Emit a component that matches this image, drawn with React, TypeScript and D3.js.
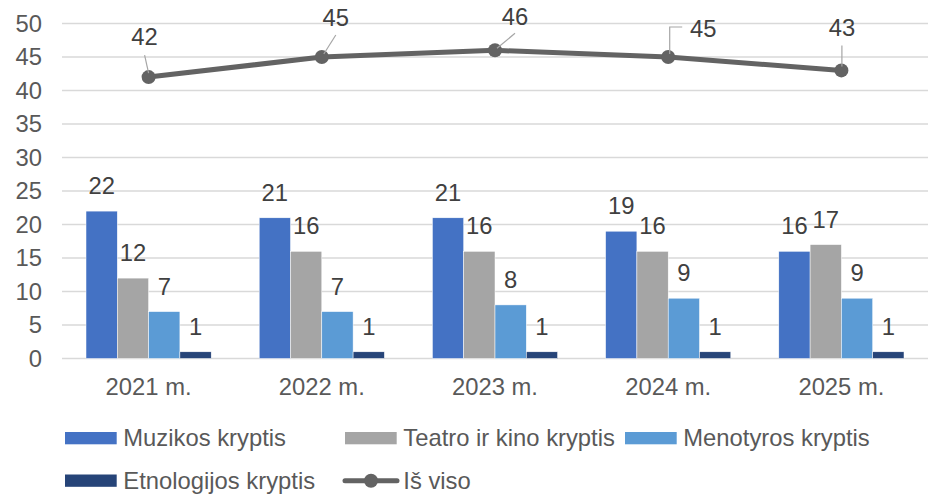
import React from "react";
import * as d3 from "d3";

const categories = ["2021 m.", "2022 m.", "2023 m.", "2024 m.", "2025 m."];
const seriesNames = ["Muzikos kryptis", "Teatro ir kino kryptis", "Menotyros kryptis", "Etnologijos kryptis"];
const muzikos = [22, 21, 21, 19, 16];
const teatro = [12, 16, 16, 16, 17];
const menotyros = [7, 7, 8, 9, 9];
const etnologijos = [1, 1, 1, 1, 1];
const isViso = [42, 45, 46, 45, 43];
const totalName = "Iš viso";
const yTicks = [0, 5, 10, 15, 20, 25, 30, 35, 40, 45, 50];

const colors = ["#4472C4", "#A5A5A5", "#5B9BD5", "#264478"];
const lineColor = "#636363";

// label layout offsets for line labels (text position and leader path relative to point)
const lineLabelLayout = [
  { tx: -4, ty: -32, leader: [[-4, -22], [0, -4]] },
  { tx: 14, ty: -31, leader: [[14, -22], [2, -3]] },
  { tx: 20, ty: -25, leader: [[20, -17], [2, -2]] },
  { tx: 35, ty: -20, leader: [[14, -30], [1.5, -30], [1.5, -3]] },
  { tx: 0.5, ty: -34, leader: [[0.5, -25], [0.5, -4]] },
];

export default function App() {
  const W = 938, H = 495;
  const left = 62, right = 928, top = 23.5, bottom = 358.5;
  const series = [muzikos, teatro, menotyros, etnologijos];

  const x = d3.scaleBand<string>().domain(categories).range([left, right]).paddingInner(0).paddingOuter(0);
  const y = d3.scaleLinear().domain([0, 50]).range([bottom, top]);
  const inner = d3.scaleBand<number>().domain([0, 1, 2, 3]).range([24, x.bandwidth() - 24]);

  const font = "'Liberation Sans', Arial, sans-serif";
  const fs = 23.8;

  const lineGen = d3.line<number>()
    .x((_, i) => (x(categories[i]) as number) + x.bandwidth() / 2)
    .y((d) => y(d));

  return (
    <svg width={W} height={H} style={{ position: "absolute", left: 0, top: 0, background: "#fff" }} fontFamily={font}>
      {yTicks.map((t) => (
        <g key={t}>
          <line x1={left} x2={right} y1={y(t)} y2={y(t)} stroke="#D9D9D9" strokeWidth={1.5} />
          <text x={42} y={y(t) + 8.3} textAnchor="end" fontSize={fs} fill="#595959">{t}</text>
        </g>
      ))}
      {categories.map((c, ci) => (
        <g key={c}>
          {series.map((s, si) => {
            const bx = (x(c) as number) + (inner(si) as number);
            const bw = inner.bandwidth();
            return (
              <g key={si}>
                <rect x={bx} y={y(s[ci])} width={bw} height={bottom - y(s[ci])} fill={colors[si]} stroke="#fff" strokeWidth={0.5} />
                <text x={bx + bw / 2} y={y(s[ci]) - 17} textAnchor="middle" fontSize={fs} fill="#404040">{s[ci]}</text>
              </g>
            );
          })}
          <text x={(x(c) as number) + x.bandwidth() / 2} y={395} textAnchor="middle" fontSize={fs} fill="#595959">{c}</text>
        </g>
      ))}
      <path d={lineGen(isViso) || ""} fill="none" stroke={lineColor} strokeWidth={5} strokeLinejoin="round" />
      {isViso.map((v, i) => {
        const px = (x(categories[i]) as number) + x.bandwidth() / 2;
        const py = y(v);
        const L = lineLabelLayout[i];
        const pts = L.leader.map(([dx, dy]) => `${px + dx},${py + dy}`).join(" ");
        return (
          <g key={i}>
            <circle cx={px} cy={py} r={7} fill={lineColor} />
            <polyline points={pts} fill="none" stroke="#A6A6A6" strokeWidth={1.2} />
            <text x={px + L.tx} y={py + L.ty} textAnchor="middle" fontSize={fs} fill="#404040">{v}</text>
          </g>
        );
      })}
      {/* legend */}
      {[
        { x: 65, y: 438, i: 0 },
        { x: 345, y: 438, i: 1 },
        { x: 625, y: 438, i: 2 },
        { x: 65, y: 480.5, i: 3 },
      ].map((l) => (
        <g key={l.i}>
          <rect x={l.x} y={l.y - 6} width={51.7} height={12.3} fill={colors[l.i]} />
          <text x={l.x + 58.3} y={l.y + 8} fontSize={fs} fill="#595959">{seriesNames[l.i]}</text>
        </g>
      ))}
      <g>
        <line x1={345} x2={397} y1={480.7} y2={480.7} stroke={lineColor} strokeWidth={5} strokeLinecap="round" />
        <circle cx={371} cy={480.7} r={7} fill={lineColor} />
        <text x={403.3} y={488.7} fontSize={fs} fill="#595959">{totalName}</text>
      </g>
    </svg>
  );
}
